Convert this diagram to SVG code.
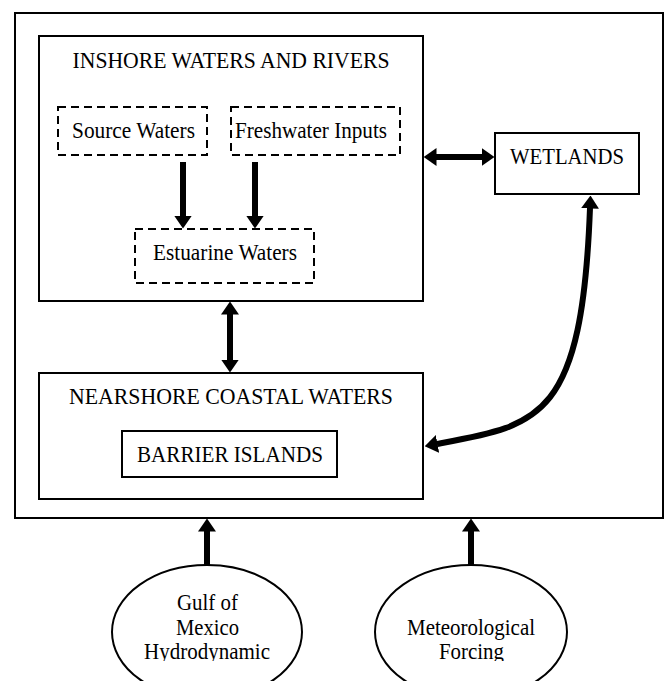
<svg xmlns="http://www.w3.org/2000/svg" width="671" height="681" viewBox="0 0 671 681">
<style>
  .box { fill: #ffffff; stroke: #000000; stroke-width: 2; }
  .frame { fill: none; stroke: #000000; stroke-width: 2; }
  .dash { fill: #ffffff; stroke: #000000; stroke-width: 2; stroke-dasharray: 8 5; }
  .oval { fill: #ffffff; stroke: #000000; stroke-width: 2; }
  .lbl { font-family: "Liberation Serif", "Times New Roman", serif; font-size: 22.5px; fill: #000000; text-anchor: middle; }
  .arrow { fill: none; stroke: #000000; stroke-width: 6; }
</style>
<defs>
  <marker id="head" markerUnits="userSpaceOnUse" markerWidth="13" markerHeight="18" viewBox="0 0 13 18" refX="0.5" refY="9" orient="auto-start-reverse">
    <path d="M0,0 L13,9 L0,18 Z" fill="#000000"/>
  </marker>
  <clipPath id="cutText">
    <rect x="0" y="0" width="671" height="661"/>
  </clipPath>
</defs>
<rect width="671" height="681" fill="#ffffff"/>

<g id="system">
  <rect class="frame" x="15" y="13" width="648" height="505"/>
</g>

<g id="inshore">
  <rect class="box" x="39" y="36" width="384" height="265"/>
  <text class="lbl" x="231" y="68" textLength="317" lengthAdjust="spacingAndGlyphs">INSHORE WATERS AND RIVERS</text>
</g>

<g id="source-waters">
  <rect class="dash" x="58" y="107" width="149" height="48"/>
  <text class="lbl" x="133.5" y="138" textLength="123" lengthAdjust="spacingAndGlyphs">Source Waters</text>
</g>

<g id="freshwater-inputs">
  <rect class="dash" x="231" y="107" width="169" height="48"/>
  <text class="lbl" x="311" y="138" textLength="152" lengthAdjust="spacingAndGlyphs">Freshwater Inputs</text>
</g>

<g id="estuarine-waters">
  <rect class="dash" x="135" y="229" width="179" height="54"/>
  <text class="lbl" x="225" y="260" textLength="144" lengthAdjust="spacingAndGlyphs">Estuarine Waters</text>
</g>

<g id="wetlands">
  <rect class="box" x="495" y="133" width="144" height="61"/>
  <text class="lbl" x="567" y="164" textLength="114" lengthAdjust="spacingAndGlyphs">WETLANDS</text>
</g>

<g id="nearshore">
  <rect class="box" x="39" y="373" width="384" height="126"/>
  <text class="lbl" x="231" y="404" textLength="324" lengthAdjust="spacingAndGlyphs">NEARSHORE COASTAL WATERS</text>
</g>

<g id="barrier-islands">
  <rect class="box" x="122" y="431" width="215" height="46"/>
  <text class="lbl" x="230" y="462" textLength="186" lengthAdjust="spacingAndGlyphs">BARRIER ISLANDS</text>
</g>

<g id="gulf">
  <ellipse class="oval" cx="207" cy="632" rx="95" ry="67"/>
  <g clip-path="url(#cutText)">
    <text class="lbl" x="207.5" y="610" textLength="61" lengthAdjust="spacingAndGlyphs">Gulf of</text>
    <text class="lbl" x="207.5" y="635" textLength="63" lengthAdjust="spacingAndGlyphs">Mexico</text>
    <text class="lbl" x="207" y="659" textLength="126" lengthAdjust="spacingAndGlyphs">Hydrodynamic</text>
  </g>
</g>

<g id="meteorological">
  <ellipse class="oval" cx="471" cy="632" rx="96" ry="67"/>
  <g clip-path="url(#cutText)">
    <text class="lbl" x="471" y="635" textLength="128" lengthAdjust="spacingAndGlyphs">Meteorological</text>
    <text class="lbl" x="471.5" y="659" textLength="65" lengthAdjust="spacingAndGlyphs">Forcing</text>
  </g>
</g>

<g id="connectors">
  <line class="arrow" x1="183" y1="162" x2="183" y2="216" marker-end="url(#head)"/>
  <line class="arrow" x1="255" y1="162" x2="255" y2="216" marker-end="url(#head)"/>
  <line class="arrow" x1="436" y1="157" x2="482" y2="157" marker-start="url(#head)" marker-end="url(#head)"/>
  <line class="arrow" x1="230" y1="314" x2="230" y2="360" marker-start="url(#head)" marker-end="url(#head)"/>
  <path class="arrow" d="M590,208 C582,420 540,425 437,444" marker-start="url(#head)" marker-end="url(#head)"/>
  <line class="arrow" x1="207" y1="565" x2="207" y2="531" marker-end="url(#head)"/>
  <line class="arrow" x1="471" y1="565" x2="471" y2="531" marker-end="url(#head)"/>
</g>
</svg>
